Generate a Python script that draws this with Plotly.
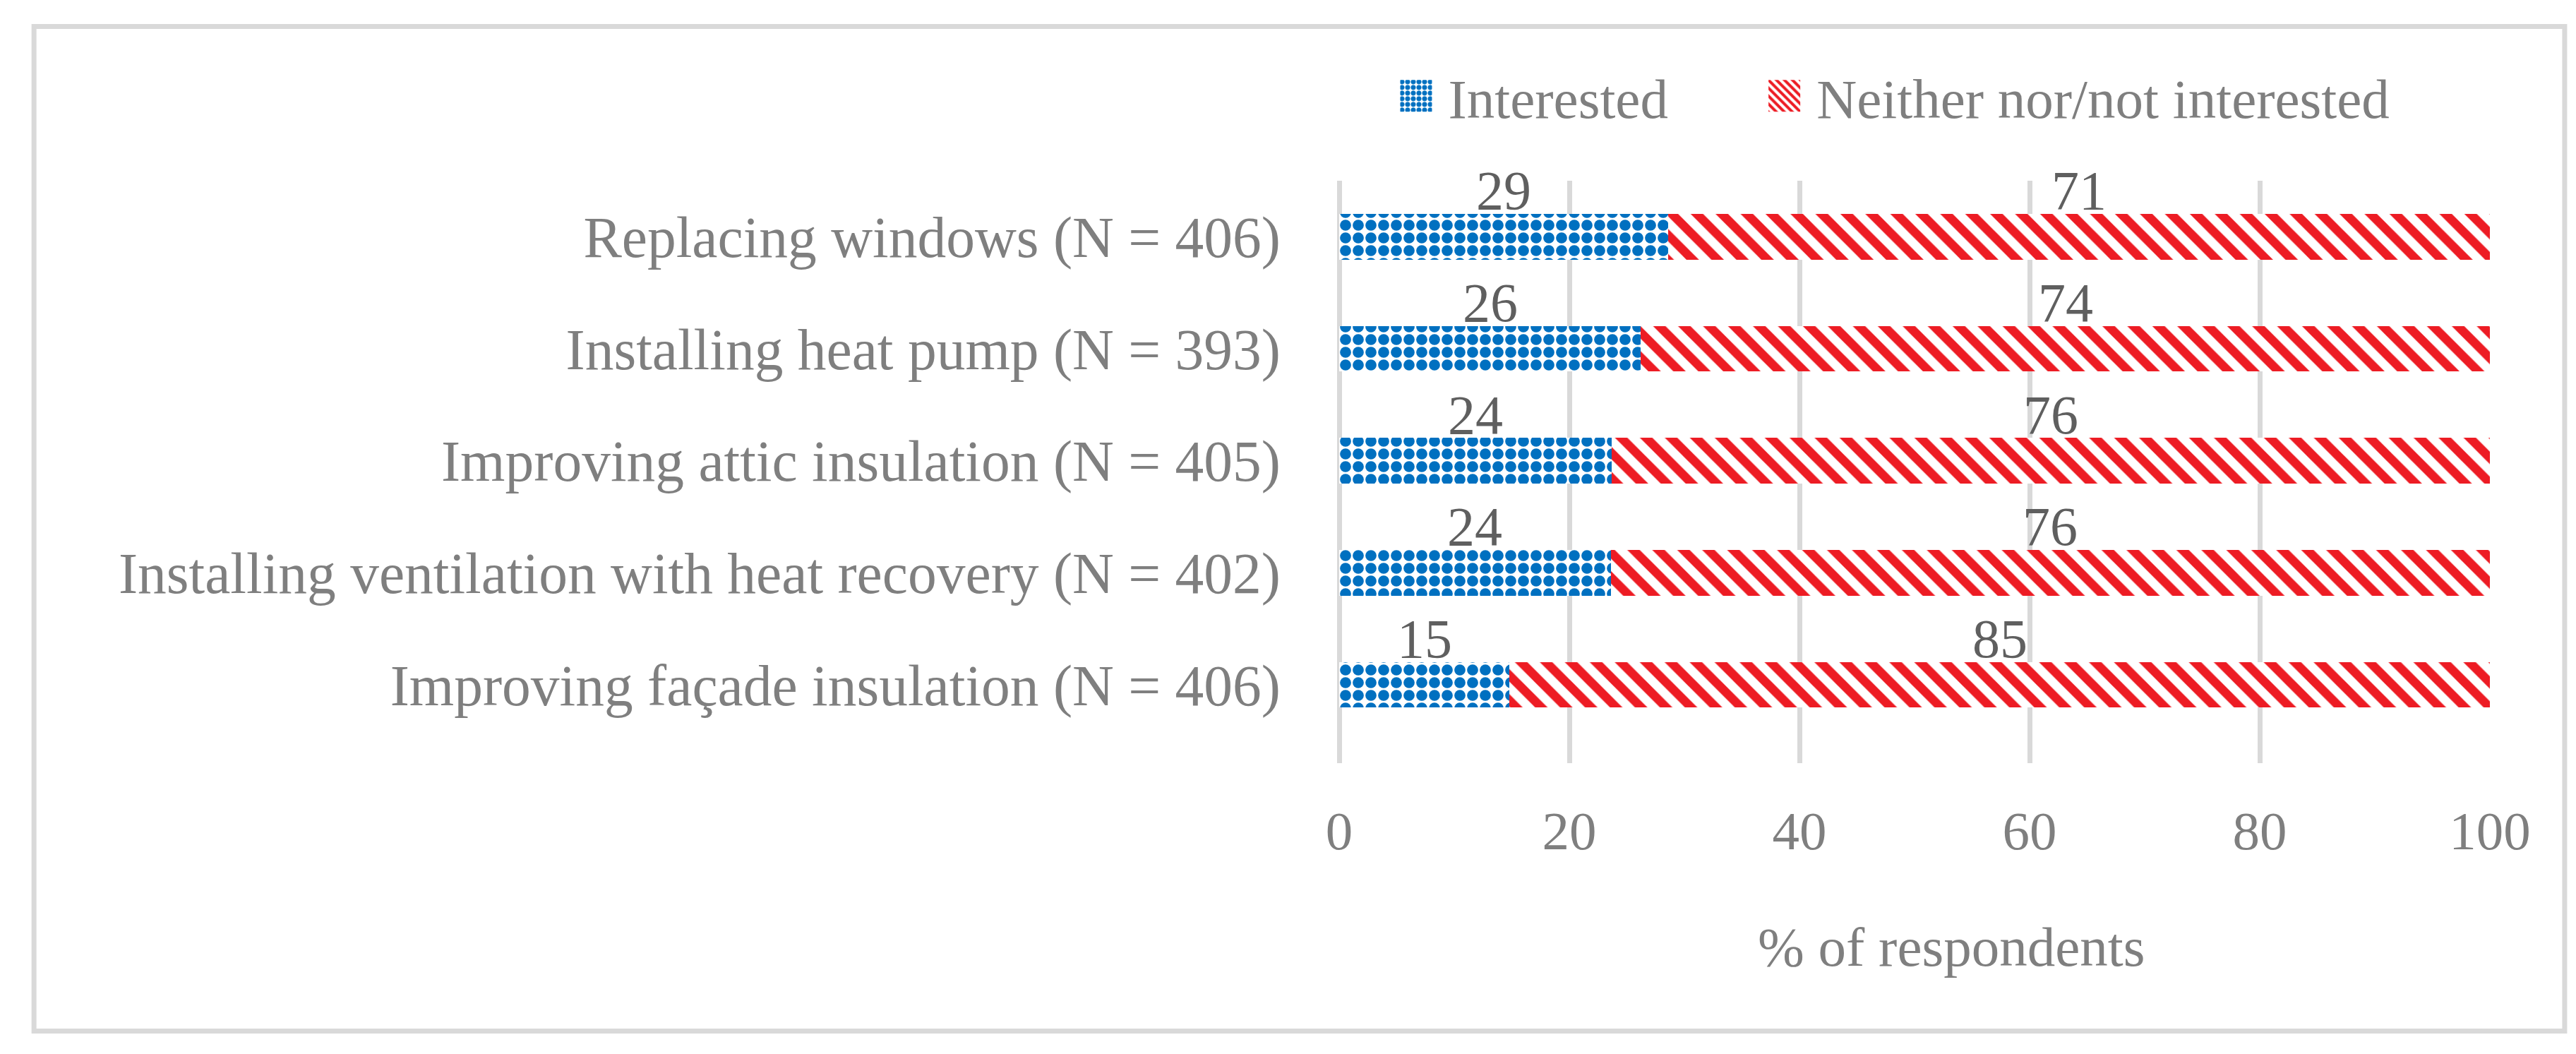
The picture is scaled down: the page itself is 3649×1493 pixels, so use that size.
import plotly.graph_objects as go

# ---- data (top to bottom as in the chart) ----
categories = [
    "Replacing windows (N = 406)",
    "Installing heat pump (N = 393)",
    "Improving attic insulation (N = 405)",
    "Installing ventilation with heat recovery (N = 402)",
    "Improving façade insulation (N = 406)",
]
interested = [28.6, 26.2, 23.7, 23.6, 14.8]
not_interested = [71.4, 73.8, 76.3, 76.4, 85.2]
series_names = ["Interested", "Neither nor/not interested"]
x_ticks = [0, 20, 40, 60, 80, 100]
x_title = "% of respondents"

FONT = "Liberation Serif"
GREY = "#7f7f7f"
LABEL_GREY = "#5f5f5f"
BLUE = "#0070C0"
RED = "#ED1C24"
GRID = "#d9d9d9"

fig = go.Figure()
fig.add_trace(go.Bar(
    y=categories, x=interested, name=series_names[0], orientation="h",
    marker=dict(color=BLUE, line=dict(width=0),
                pattern=dict(shape=".", size=18, solidity=0.6,
                             fgcolor=BLUE, bgcolor="white", fillmode="replace")),
    hoverinfo="skip", legend="legend",
))
fig.add_trace(go.Bar(
    y=categories, x=not_interested, name=series_names[1], orientation="h",
    marker=dict(color=RED, line=dict(width=0),
                pattern=dict(shape="\\", size=25, solidity=0.5,
                             fgcolor=RED, bgcolor="white", fillmode="replace")),
    hoverinfo="skip", legend="legend2",
))

# plot-area geometry (pixels)
W, H = 3649, 1493
L, R, T, B = 1888.5, 3519.5, 248, 1073
pw, ph = R - L, B - T

def px_x(v):
    return (v - L) / pw

def px_y(v):
    return (B - v) / ph

# data labels centred on each segment, just above the bar
annotations = []
for cat, a, b in zip(categories, interested, not_interested):
    for base, val in ((0, a), (a, b)):
        annotations.append(dict(
            x=base + val / 2, y=cat, xref="x", yref="y",
            text=f"{val:.0f}", showarrow=False, yanchor="bottom",
            yshift=20, font=dict(family=FONT, size=78, color=LABEL_GREY),
        ))

# x-axis title (placed like the original, slightly right of centre)
annotations.append(dict(
    x=px_x(2757), y=px_y(1333), xref="paper", yref="paper",
    text=x_title, showarrow=False, xanchor="center", yanchor="middle",
    font=dict(family=FONT, size=79, color=GREY),
))

legend_common = dict(orientation="h", xanchor="left", yanchor="middle",
                     font=dict(family=FONT, size=79, color=GREY),
                     itemwidth=81, bgcolor="rgba(0,0,0,0)")

fig.update_layout(
    width=W, height=H,
    margin=dict(l=L, r=W - R, t=T, b=H - B, pad=0),
    paper_bgcolor="white", plot_bgcolor="white",
    barmode="stack", bargap=0.594,
    font=dict(family=FONT, size=79, color=GREY),
    showlegend=True,
    legend=dict(x=px_x(1952), y=px_y(128), **legend_common),
    legend2=dict(x=px_x(2474), y=px_y(128), **legend_common),
    xaxis=dict(range=[0, 100], tickvals=x_ticks, showgrid=True,
               gridcolor=GRID, gridwidth=7, zeroline=True, zerolinecolor=GRID,
               zerolinewidth=7, showline=False, ticks="",
               ticklabelstandoff=44,
               tickfont=dict(family=FONT, size=77, color=GREY),
               fixedrange=True),
    yaxis=dict(autorange="reversed", showgrid=False, zeroline=False,
               showline=False, ticks="", ticklabelstandoff=82,
               tickfont=dict(family=FONT, size=81.5, color=GREY),
               fixedrange=True),
    annotations=annotations,
    shapes=[dict(type="rect", xref="paper", yref="paper",
                 x0=px_x(38.5), x1=px_x(3625.5), y0=px_y(1452.5), y1=px_y(29.5),
                 line=dict(color=GRID, width=7), fillcolor="rgba(0,0,0,0)",
                 layer="below")],
)

# enlarge the legend swatches to the size used in the original figure
post = """
var gd = document.getElementById('{plot_id}');
gd.querySelectorAll('.legendpoints path').forEach(function(p){
    p.setAttribute('d', 'M22.5,22.5H-22.5V-22.5H22.5Z');
});
"""

fig.write_html("out.html", config={"displayModeBar": False}, post_script=post)
